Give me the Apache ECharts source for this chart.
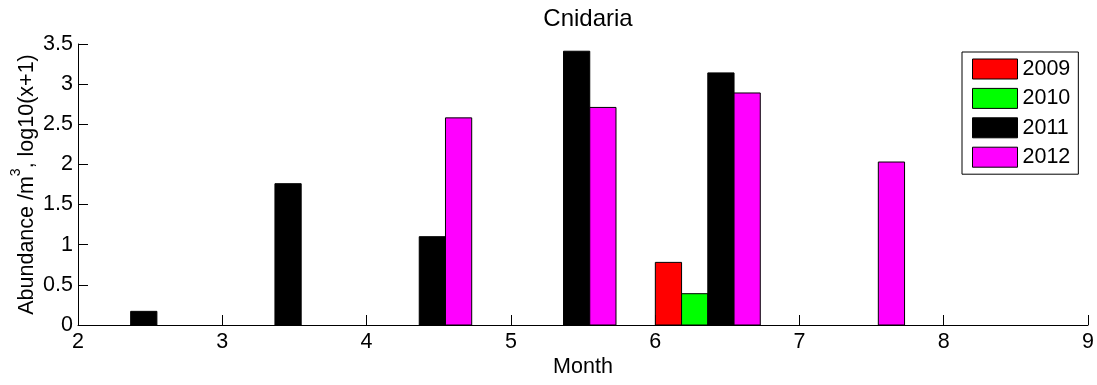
<!DOCTYPE html>
<html>
<head>
<meta charset="utf-8">
<script src="https://cdn.jsdelivr.net/npm/echarts@6/dist/echarts.min.js"></script>
<style>html,body{margin:0;padding:0;background:#fff}#c{width:1097px;height:385px}</style>
</head>
<body>
<div id="c"></div>
<script>
// Group centre positions on the Month axis
const monthX = [2.365, 3.365, 4.365, 5.365, 6.365, 7.365];
const years = ['2009', '2010', '2011', '2012'];
const v2009 = [0, 0, 0, 0, 0.78, 0];
const v2010 = [0, 0, 0, 0, 0.39, 0];
const v2011 = [0.17, 1.76, 1.10, 3.41, 3.14, 0];
const v2012 = [0, 0, 2.58, 2.71, 2.89, 2.03];
const yearValues = [v2009, v2010, v2011, v2012];
const colors = ['#ff0000', '#00ff00', '#000000', '#ff00ff'];
const xTicks = [2, 3, 4, 5, 6, 7, 8, 9];
const yTicks = [0, 0.5, 1, 1.5, 2, 2.5, 3, 3.5];

const FONT = 'Liberation Sans, Arial, sans-serif';
const FS = 21.5;
const nYears = years.length;
const groupW = Math.min(0.8, nYears / (nYears + 1.5));
const barW = groupW / nYears;

const series = years.map((y, i) => ({
  name: y,
  type: 'custom',
  coordinateSystem: 'cartesian2d',
  color: colors[i],
  data: monthX.map((x, k) => [x, yearValues[i][k]]).filter(d => d[1] > 0),
  renderItem: function (params, api) {
    const x = api.value(0), v = api.value(1);
    const x0 = x - groupW / 2 + i * barW;
    const pTop = api.coord([x0, v]);
    const pBot = api.coord([x0 + barW, 0]);
    return {
      type: 'rect',
      shape: { x: pTop[0], y: pTop[1], width: pBot[0] - pTop[0], height: pBot[1] - pTop[1] },
      style: { fill: colors[i], stroke: '#000', lineWidth: 1 }
    };
  }
}));

const chart = echarts.init(document.getElementById('c'), null, { renderer: 'canvas' });
chart.setOption({
  animation: false,
  backgroundColor: '#fff',
  textStyle: { fontFamily: FONT, color: '#000' },
  title: {
    text: 'Cnidaria',
    left: 583, top: 2, textAlign: 'center',
    textStyle: { fontFamily: FONT, fontWeight: 'normal', fontSize: 24, color: '#000' }
  },
  grid: { left: 78, right: 9, top: 44, bottom: 60, containLabel: false, outerBoundsMode: 'none' },
  legend: {
    orient: 'vertical',
    left: 962, top: 52,
    padding: [6, 8, 6, 10],
    itemGap: 7.4,
    itemWidth: 45, itemHeight: 20,
    borderColor: '#000', borderWidth: 1,
    backgroundColor: '#fff',
    textStyle: { fontFamily: FONT, fontSize: FS, lineHeight: 21, color: '#000', padding: [0, 0, 0, 0] },
    data: years.map((y, i) => ({ name: y, icon: 'rect', itemStyle: { color: colors[i], borderColor: '#000', borderWidth: 1 } }))
  },
  xAxis: {
    type: 'value', min: xTicks[0], max: xTicks[xTicks.length - 1], interval: 1,
    name: 'Month', nameLocation: 'middle', nameGap: 31, nameMoveOverlap: false,
    nameTextStyle: { fontFamily: FONT, fontSize: FS, color: '#000' },
    axisLine: { show: true, onZero: false, lineStyle: { color: '#000', width: 1 } },
    axisTick: { show: true, inside: true, length: 10, lineStyle: { color: '#000' } },
    axisLabel: { fontFamily: FONT, fontSize: FS, color: '#000', margin: 6 },
    splitLine: { show: false }
  },
  yAxis: {
    type: 'value', min: yTicks[0], max: yTicks[yTicks.length - 1], interval: 0.5,
    name: '{a|Abundance /m}{s|3}{a|, log10(x+1)}', nameLocation: 'middle', nameGap: 40, nameRotate: 90,
    nameMoveOverlap: false,
    nameTextStyle: {
      fontFamily: FONT, fontSize: FS, color: '#000',
      rich: {
        a: { fontFamily: FONT, fontSize: FS, color: '#000', verticalAlign: 'bottom' },
        s: { fontFamily: FONT, fontSize: 14, color: '#000', verticalAlign: 'bottom', padding: [0, 0, 15, 0] }
      }
    },
    axisLine: { show: true, lineStyle: { color: '#000', width: 1 } },
    axisTick: { show: true, inside: true, length: 10, lineStyle: { color: '#000' } },
    axisLabel: { fontFamily: FONT, fontSize: FS, color: '#000', margin: 5 },
    splitLine: { show: false }
  },
  series: series
});
</script>
</body>
</html>
